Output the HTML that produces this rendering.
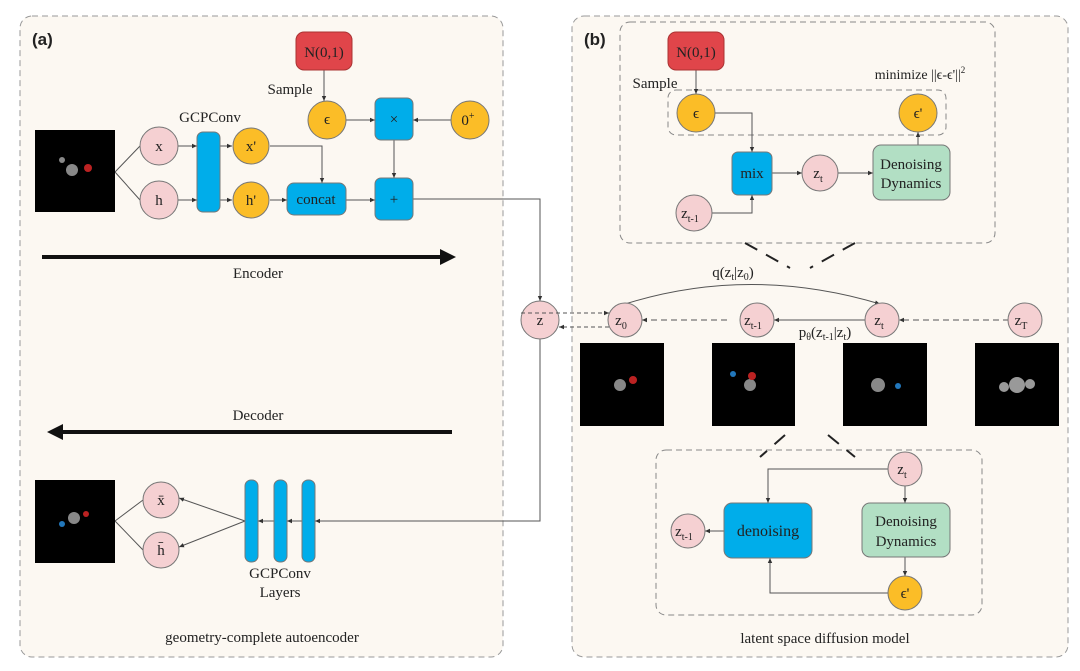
<!DOCTYPE html>
<html><head><meta charset="utf-8"><style>
html,body{margin:0;padding:0;background:#fff}
svg{display:block}
text{font-family:"Liberation Serif",serif;fill:#222}
</style></head><body>
<svg width="1080" height="671" viewBox="0 0 1080 671" xmlns="http://www.w3.org/2000/svg">
<defs>
<marker id="a" markerWidth="6" markerHeight="6" refX="5" refY="3" orient="auto"><path d="M0,0.8 L5,3 L0,5.2z" fill="#333"/></marker>
<marker id="big" markerWidth="4" markerHeight="4" refX="3" refY="2" orient="auto"><path d="M0,0 L4,2 L0,4z" fill="#111"/></marker>
</defs>
<rect x="20" y="16" width="483" height="641" rx="12" fill="#fcf8f2" stroke="#999" stroke-dasharray="6,4"/>
<rect x="572" y="16" width="496" height="641" rx="12" fill="#fcf8f2" stroke="#999" stroke-dasharray="6,4"/>
<text x="32" y="45" font-size="17" font-weight="bold" style="font-family:'Liberation Sans',sans-serif">(a)</text>
<text x="584" y="45" font-size="17" font-weight="bold" style="font-family:'Liberation Sans',sans-serif">(b)</text>

<g stroke="#555" stroke-width="1" fill="none">
<path d="M115,172 L140,146 M115,172 L140,200"/>
<path d="M178,146 H197" marker-end="url(#a)"/><path d="M178,200 H197" marker-end="url(#a)"/>
<path d="M220,146 H232" marker-end="url(#a)"/><path d="M220,200 H232" marker-end="url(#a)"/>
<path d="M270,200 H287" marker-end="url(#a)"/>
<path d="M270,146 H322 V183" marker-end="url(#a)"/>
<path d="M324,70 V101" marker-end="url(#a)"/>
<path d="M346,120 H375" marker-end="url(#a)"/>
<path d="M451,120 H413" marker-end="url(#a)"/>
<path d="M394,140 V178" marker-end="url(#a)"/>
<path d="M346,200 H375" marker-end="url(#a)"/>
<path d="M413,199 H540 V301" marker-end="url(#a)"/>
<path d="M540,339 V521 H315" marker-end="url(#a)"/>
<path d="M302,521 H287" marker-end="url(#a)"/>
<path d="M274,521 H258" marker-end="url(#a)"/>
<path d="M245,521 L179,498" marker-end="url(#a)"/><path d="M245,521 L179,547" marker-end="url(#a)"/>
<path d="M115,521 L143,500 M115,521 L143,550"/>
</g>
<line x1="42" y1="257" x2="452" y2="257" stroke="#111" stroke-width="4" marker-end="url(#big)"/>
<line x1="452" y1="432" x2="51" y2="432" stroke="#111" stroke-width="4" marker-end="url(#big)"/>
<text x="258" y="278" font-size="15" text-anchor="middle">Encoder</text>
<text x="258" y="420" font-size="15" text-anchor="middle">Decoder</text>

<rect x="35" y="130" width="80" height="82" fill="#000"/>
<rect x="35" y="480" width="80" height="83" fill="#000"/>
<g fill="#888"><circle cx="72" cy="170" r="6"/><circle cx="88" cy="168" r="4" fill="#b22"/><circle cx="62" cy="160" r="3"/></g>
<g fill="#888"><circle cx="74" cy="518" r="6"/><circle cx="62" cy="524" r="3" fill="#27b"/><circle cx="86" cy="514" r="3" fill="#b22"/></g>

<rect x="296" y="32" width="56" height="38" rx="8" fill="#e0454a" stroke="#a33"/>
<text x="324" y="57" font-size="15" text-anchor="middle">N(0,1)</text>
<text x="290" y="94" font-size="15" text-anchor="middle">Sample</text>
<text x="210" y="122" font-size="15" text-anchor="middle">GCPConv</text>

<g stroke="#777">
<circle cx="159" cy="146" r="19" fill="#f5d0d2"/><circle cx="159" cy="200" r="19" fill="#f5d0d2"/>
<circle cx="251" cy="146" r="18" fill="#fbbd27"/><circle cx="251" cy="200" r="18" fill="#fbbd27"/>
<circle cx="327" cy="120" r="19" fill="#fbbd27"/><circle cx="470" cy="120" r="19" fill="#fbbd27"/>
<rect x="197" y="132" width="23" height="80" rx="6" fill="#00adea"/>
<rect x="287" y="183" width="59" height="32" rx="7" fill="#00adea"/>
<rect x="375" y="98" width="38" height="42" rx="6" fill="#00adea"/>
<rect x="375" y="178" width="38" height="42" rx="6" fill="#00adea"/>
<circle cx="540" cy="320" r="19" fill="#f5d0d2"/>
<circle cx="161" cy="500" r="18" fill="#f5d0d2"/><circle cx="161" cy="550" r="18" fill="#f5d0d2"/>
<rect x="245" y="480" width="13" height="82" rx="6" fill="#00adea"/>
<rect x="274" y="480" width="13" height="82" rx="6" fill="#00adea"/>
<rect x="302" y="480" width="13" height="82" rx="6" fill="#00adea"/>
</g>
<g font-size="15" text-anchor="middle">
<text x="159" y="151">x</text><text x="159" y="205">h</text>
<text x="251" y="151">x'</text><text x="251" y="205">h'</text>
<text x="327" y="124">ϵ</text><text x="468" y="125">0<tspan font-size="10" dy="-6">+</tspan></text>
<text x="316" y="204">concat</text><text x="394" y="124">×</text><text x="394" y="204">+</text>
<text x="540" y="325">z</text>
<text x="161" y="505">x̄</text><text x="161" y="555">h̄</text>
<text x="280" y="578">GCPConv</text><text x="280" y="597">Layers</text>
<text x="262" y="642">geometry-complete autoencoder</text>
</g>

<!-- panel b -->
<rect x="620" y="22" width="375" height="221" rx="10" fill="none" stroke="#888" stroke-dasharray="6,4"/>
<rect x="668" y="90" width="278" height="45" rx="8" fill="none" stroke="#888" stroke-dasharray="6,4"/>
<rect x="656" y="450" width="326" height="165" rx="10" fill="none" stroke="#888" stroke-dasharray="6,4"/>
<g stroke="#222" stroke-width="2" stroke-dasharray="14,10"><path d="M745,243 L790,268 M855,243 L810,268 M785,435 L760,457 M828,435 L855,457"/></g>
<g stroke="#555" fill="none">
<path d="M696,70 V94" marker-end="url(#a)"/>
<path d="M715,113 H752 V152" marker-end="url(#a)"/>
<path d="M712,213 H752 V195" marker-end="url(#a)"/>
<path d="M772,173 H802" marker-end="url(#a)"/>
<path d="M838,173 H873" marker-end="url(#a)"/>
<path d="M918,145 V132" marker-end="url(#a)"/>
<path d="M521,313 H609" stroke-dasharray="4,3" marker-end="url(#a)"/>
<path d="M609,327 H559" stroke-dasharray="4,3" marker-end="url(#a)"/>
<path d="M727,320 H642" stroke-dasharray="6,4" marker-end="url(#a)"/>
<path d="M866,320 H774" marker-end="url(#a)"/>
<path d="M1009,320 H899" stroke-dasharray="6,4" marker-end="url(#a)"/>
<path d="M625,304 Q750,265 880,304" marker-end="url(#a)"/>
<path d="M888,469 H768 V503" marker-end="url(#a)"/>
<path d="M905,486 V503" marker-end="url(#a)"/>
<path d="M905,557 V576" marker-end="url(#a)"/>
<path d="M888,593 H770 V558" marker-end="url(#a)"/>
<path d="M724,531 H705" marker-end="url(#a)"/>
</g>
<rect x="668" y="32" width="56" height="38" rx="8" fill="#e0454a" stroke="#a33"/>
<text x="696" y="57" font-size="15" text-anchor="middle">N(0,1)</text>
<text x="655" y="88" font-size="15" text-anchor="middle">Sample</text>
<text x="920" y="79" font-size="14" text-anchor="middle">minimize ||ϵ-ϵ'||<tspan font-size="9" dy="-6">2</tspan></text>
<g stroke="#777">
<circle cx="696" cy="113" r="19" fill="#fbbd27"/><circle cx="918" cy="113" r="19" fill="#fbbd27"/>
<rect x="732" y="152" width="40" height="43" rx="6" fill="#00adea"/>
<circle cx="820" cy="173" r="18" fill="#f5d0d2"/><circle cx="694" cy="213" r="18" fill="#f5d0d2"/>
<rect x="873" y="145" width="77" height="55" rx="8" fill="#b2dfc4"/>
<circle cx="625" cy="320" r="17" fill="#f5d0d2"/><circle cx="757" cy="320" r="17" fill="#f5d0d2"/>
<circle cx="882" cy="320" r="17" fill="#f5d0d2"/><circle cx="1025" cy="320" r="17" fill="#f5d0d2"/>
<circle cx="905" cy="469" r="17" fill="#f5d0d2"/><circle cx="688" cy="531" r="17" fill="#f5d0d2"/>
<circle cx="905" cy="593" r="17" fill="#fbbd27"/>
<rect x="724" y="503" width="88" height="55" rx="8" fill="#00adea"/>
<rect x="862" y="503" width="88" height="54" rx="8" fill="#b2dfc4"/>
</g>
<rect x="580" y="343" width="84" height="83" fill="#000"/><rect x="712" y="343" width="83" height="83" fill="#000"/>
<rect x="843" y="343" width="84" height="83" fill="#000"/><rect x="975" y="343" width="84" height="83" fill="#000"/>
<g fill="#888"><circle cx="620" cy="385" r="6"/><circle cx="633" cy="380" r="4" fill="#b22"/>
<circle cx="750" cy="385" r="6"/><circle cx="752" cy="376" r="4" fill="#b22"/><circle cx="733" cy="374" r="3" fill="#27b"/>
<circle cx="878" cy="385" r="7"/><circle cx="898" cy="386" r="3" fill="#27b"/>
<circle cx="1017" cy="385" r="8" fill="#999"/><circle cx="1030" cy="384" r="5" fill="#999"/><circle cx="1004" cy="387" r="5" fill="#999"/></g>
<g font-size="15" text-anchor="middle">
<text x="696" y="118">ϵ</text><text x="918" y="118">ϵ'</text>
<text x="752" y="178">mix</text>
<text x="818" y="178">z<tspan font-size="10" dy="4">t</tspan></text>
<text x="690" y="218">z<tspan font-size="10" dy="4">t-1</tspan></text>
<text x="911" y="169">Denoising</text><text x="911" y="188">Dynamics</text>
<text x="733" y="277">q(z<tspan font-size="10" dy="3">t</tspan><tspan dy="-3">|z</tspan><tspan font-size="10" dy="3">0</tspan><tspan dy="-3">)</tspan></text>
<text x="621" y="325">z<tspan font-size="10" dy="4">0</tspan></text>
<text x="753" y="325">z<tspan font-size="10" dy="4">t-1</tspan></text>
<text x="879" y="325">z<tspan font-size="10" dy="4">t</tspan></text>
<text x="1021" y="325">z<tspan font-size="10" dy="4">T</tspan></text>
<text x="825" y="337">p<tspan font-size="10" dy="3">θ</tspan><tspan dy="-3">(z</tspan><tspan font-size="10" dy="3">t-1</tspan><tspan dy="-3">|z</tspan><tspan font-size="10" dy="3">t</tspan><tspan dy="-3">)</tspan></text>
<text x="902" y="474">z<tspan font-size="10" dy="4">t</tspan></text>
<text x="684" y="536">z<tspan font-size="10" dy="4">t-1</tspan></text>
<text x="905" y="598">ϵ'</text>
<text x="768" y="536" font-size="16">denoising</text>
<text x="906" y="526">Denoising</text><text x="906" y="546">Dynamics</text>
<text x="825" y="643">latent space diffusion model</text>
</g>
</svg>
</body></html>
